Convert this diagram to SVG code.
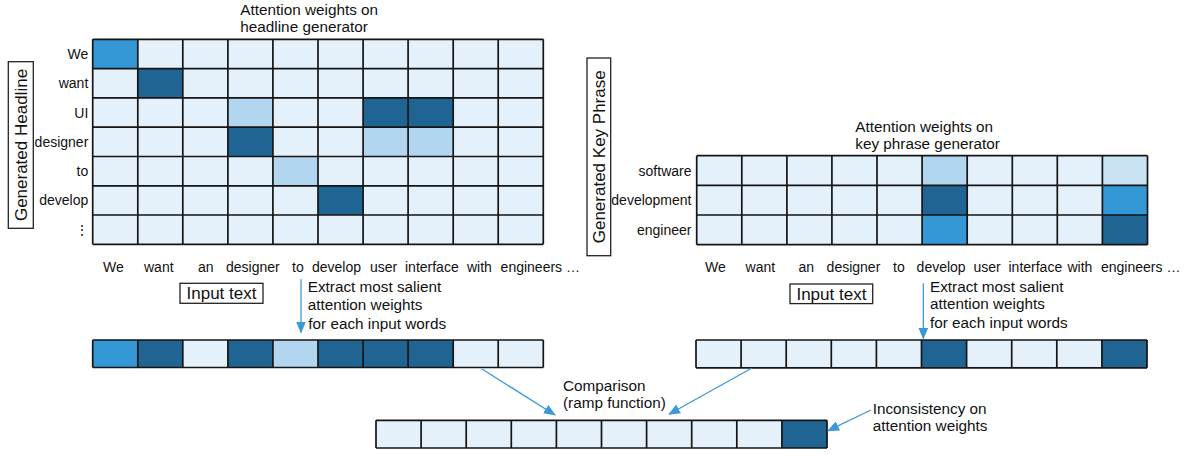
<svg xmlns="http://www.w3.org/2000/svg" width="1188" height="455" viewBox="0 0 1188 455">
<style>
text{font-family:"Liberation Sans",Arial,sans-serif;fill:#111}
.lb{font-size:14px}
.an{font-size:15.3px}
.big{font-size:17px}
.r{text-anchor:end}
.m{text-anchor:middle}
.L{fill:#e4f0fa}
.P{fill:#b2d6ef}
.Q{fill:#c9e3f3}
.M{fill:#3498d7}
.D{fill:#1f6492}
.g{fill:none;stroke:#151515;stroke-width:1.7}
.box{fill:#fff;stroke:#222;stroke-width:1.3}
.ar{fill:none;stroke:#3a9ad9;stroke-width:1.3;marker-end:url(#ah)}
</style>
<defs>
<marker id="ah" markerUnits="userSpaceOnUse" markerWidth="12" markerHeight="10" viewBox="0 0 12 10" refX="11" refY="5" orient="auto">
<path d="M0,0 L12,5 L0,10 z" fill="#3a9ad9"/>
</marker>
</defs>
<rect width="1188" height="455" fill="#fff"/>

<g id="headline-grid">
<text class="an" x="240.3" y="15">Attention weights on</text>
<text class="an" x="240.3" y="32.3">headline generator</text>
<rect class="L" x="92.7" y="39.3" width="450.6" height="205"/>
<rect class="M" x="92.7" y="39.3" width="45.1" height="29.3"/>
<rect class="D" x="137.8" y="68.6" width="45" height="29.3"/>
<rect class="P" x="227.9" y="97.9" width="45" height="29.3"/>
<rect class="D" x="363.1" y="97.9" width="45" height="29.3"/>
<rect class="D" x="408.1" y="97.9" width="45.1" height="29.3"/>
<rect class="D" x="227.9" y="127.2" width="45" height="29.3"/>
<rect class="P" x="363.1" y="127.2" width="45" height="29.3"/>
<rect class="P" x="408.1" y="127.2" width="45.1" height="29.3"/>
<rect class="P" x="272.9" y="156.5" width="45.1" height="29.3"/>
<rect class="D" x="318" y="185.8" width="45.1" height="29.2"/>
<path class="g" d="M92.7,39.3V244.3M137.8,39.3V244.3M182.8,39.3V244.3M227.9,39.3V244.3M272.9,39.3V244.3M318,39.3V244.3M363.1,39.3V244.3M408.1,39.3V244.3M453.2,39.3V244.3M498.2,39.3V244.3M543.3,39.3V244.3M92.7,39.3H543.3M92.7,68.6H543.3M92.7,97.9H543.3M92.7,127.2H543.3M92.7,156.5H543.3M92.7,185.8H543.3M92.7,215H543.3M92.7,244.3H543.3"/>
<text class="lb r" x="88.3" y="58.9">We</text>
<text class="lb r" x="88.3" y="88.2">want</text>
<text class="lb r" x="88.3" y="117.5">UI</text>
<text class="lb r" x="88.3" y="146.8">designer</text>
<text class="lb r" x="88.3" y="176.1">to</text>
<text class="lb r" x="88.3" y="205.4">develop</text>
<text class="lb m" x="81.5" y="235">⋮</text>
<text class="lb" x="103" y="272">We</text>
<text class="lb" x="144" y="272">want</text>
<text class="lb" x="198" y="272">an</text>
<text class="lb" x="226" y="272">designer</text>
<text class="lb" x="292" y="272">to</text>
<text class="lb" x="312" y="272">develop</text>
<text class="lb" x="370" y="272">user</text>
<text class="lb" x="405" y="272">interface</text>
<text class="lb" x="467" y="272">with</text>
<text class="lb" x="500.6" y="272">engineers …</text>
</g>

<g id="headline-axis">
<rect class="box" x="8.3" y="61.7" width="25" height="166.6"/>
<text class="big m" transform="translate(26.9,145) rotate(-90)">Generated Headline</text>
</g>

<g id="input-text-left">
<rect class="box" x="180" y="283.3" width="83" height="20"/>
<text class="big m" x="221.5" y="299.4">Input text</text>
</g>

<g id="extract-left">
<text class="an" x="307.7" y="292">Extract most salient</text>
<text class="an" x="307.7" y="309.5">attention weights</text>
<text class="an" x="308.3" y="329">for each input words</text>
</g>

<g id="headline-row">
<rect class="M" x="92.7" y="340" width="45.1" height="27.5"/>
<rect class="D" x="137.8" y="340" width="45" height="27.5"/>
<rect class="L" x="182.8" y="340" width="45.1" height="27.5"/>
<rect class="D" x="227.9" y="340" width="45" height="27.5"/>
<rect class="P" x="272.9" y="340" width="45.1" height="27.5"/>
<rect class="D" x="318" y="340" width="45.1" height="27.5"/>
<rect class="D" x="363.1" y="340" width="45" height="27.5"/>
<rect class="D" x="408.1" y="340" width="45.1" height="27.5"/>
<rect class="L" x="453.2" y="340" width="45" height="27.5"/>
<rect class="L" x="498.2" y="340" width="45.1" height="27.5"/>
<path class="g" d="M92.7,340V367.5M137.8,340V367.5M182.8,340V367.5M227.9,340V367.5M272.9,340V367.5M318,340V367.5M363.1,340V367.5M408.1,340V367.5M453.2,340V367.5M498.2,340V367.5M543.3,340V367.5M92.7,340H543.3M92.7,367.5H543.3"/>
</g>

<g id="keyphrase-grid">
<text class="an" x="855.3" y="132">Attention weights on</text>
<text class="an" x="855.3" y="149">key phrase generator</text>
<rect class="L" x="696.7" y="155.7" width="450.8" height="89"/>
<rect class="P" x="922.1" y="155.7" width="45.1" height="29.7"/>
<rect class="Q" x="1102.4" y="155.7" width="45.1" height="29.7"/>
<rect class="D" x="922.1" y="185.4" width="45.1" height="29.6"/>
<rect class="M" x="1102.4" y="185.4" width="45.1" height="29.6"/>
<rect class="M" x="922.1" y="215" width="45.1" height="29.7"/>
<rect class="D" x="1102.4" y="215" width="45.1" height="29.7"/>
<path class="g" d="M696.7,155.7V244.7M741.8,155.7V244.7M786.9,155.7V244.7M831.9,155.7V244.7M877,155.7V244.7M922.1,155.7V244.7M967.2,155.7V244.7M1012.3,155.7V244.7M1057.3,155.7V244.7M1102.4,155.7V244.7M1147.5,155.7V244.7M696.7,155.7H1147.5M696.7,185.4H1147.5M696.7,215H1147.5M696.7,244.7H1147.5"/>
<text class="lb r" x="691.5" y="175.5">software</text>
<text class="lb r" x="691.5" y="205.2">development</text>
<text class="lb r" x="691.5" y="234.8">engineer</text>
<text class="lb" x="705" y="272">We</text>
<text class="lb" x="745.6" y="272">want</text>
<text class="lb" x="798.5" y="272">an</text>
<text class="lb" x="826.6" y="272">designer</text>
<text class="lb" x="893" y="272">to</text>
<text class="lb" x="916.6" y="272">develop</text>
<text class="lb" x="973.5" y="272">user</text>
<text class="lb" x="1008.5" y="272">interface</text>
<text class="lb" x="1067.5" y="272">with</text>
<text class="lb" x="1101" y="272">engineers …</text>
</g>

<g id="keyphrase-axis">
<rect class="box" x="587" y="58" width="23.7" height="197.7"/>
<text class="big m" transform="translate(604.9,156.8) rotate(-90)">Generated Key Phrase</text>
</g>

<g id="input-text-right">
<rect class="box" x="790" y="284" width="82.7" height="19.6"/>
<text class="big m" x="831.4" y="299.8">Input text</text>
</g>

<g id="extract-right">
<text class="an" x="930" y="291.7">Extract most salient</text>
<text class="an" x="930" y="309.3">attention weights</text>
<text class="an" x="930" y="327.5">for each input words</text>
</g>

<g id="keyphrase-row">
<rect class="L" x="696" y="340" width="451" height="27.8"/>
<rect class="D" x="921.5" y="340" width="45.1" height="27.8"/>
<rect class="D" x="1101.9" y="340" width="45.1" height="27.8"/>
<path class="g" d="M696,340V367.8M741.1,340V367.8M786.2,340V367.8M831.3,340V367.8M876.4,340V367.8M921.5,340V367.8M966.6,340V367.8M1011.7,340V367.8M1056.8,340V367.8M1101.9,340V367.8M1147,340V367.8M696,340H1147M696,367.8H1147"/>
</g>

<g id="comparison-label">
<text class="an" x="563" y="391">Comparison</text>
<text class="an" x="563" y="408">(ramp function)</text>
</g>

<g id="result-row">
<rect class="L" x="376" y="420.3" width="451" height="27.7"/>
<rect class="D" x="781.9" y="420.3" width="45.1" height="27.7"/>
<path class="g" d="M376,420.3V448M421.1,420.3V448M466.2,420.3V448M511.3,420.3V448M556.4,420.3V448M601.5,420.3V448M646.6,420.3V448M691.7,420.3V448M736.8,420.3V448M781.9,420.3V448M827,420.3V448M376,420.3H827M376,448H827"/>
</g>

<g id="inconsistency-label">
<text class="an" x="872.7" y="414">Inconsistency on</text>
<text class="an" x="872.7" y="430.5">attention weights</text>
</g>

<g id="connectors">
<line class="ar" x1="301" y1="279.3" x2="301" y2="332.5"/>
<line class="ar" x1="923.3" y1="283.3" x2="923.3" y2="338.5"/>
<line class="ar" x1="482" y1="369" x2="555" y2="415"/>
<line class="ar" x1="751.5" y1="368.3" x2="669" y2="414.3"/>
<line class="ar" x1="871" y1="410" x2="828" y2="430.7"/>
</g>
</svg>
